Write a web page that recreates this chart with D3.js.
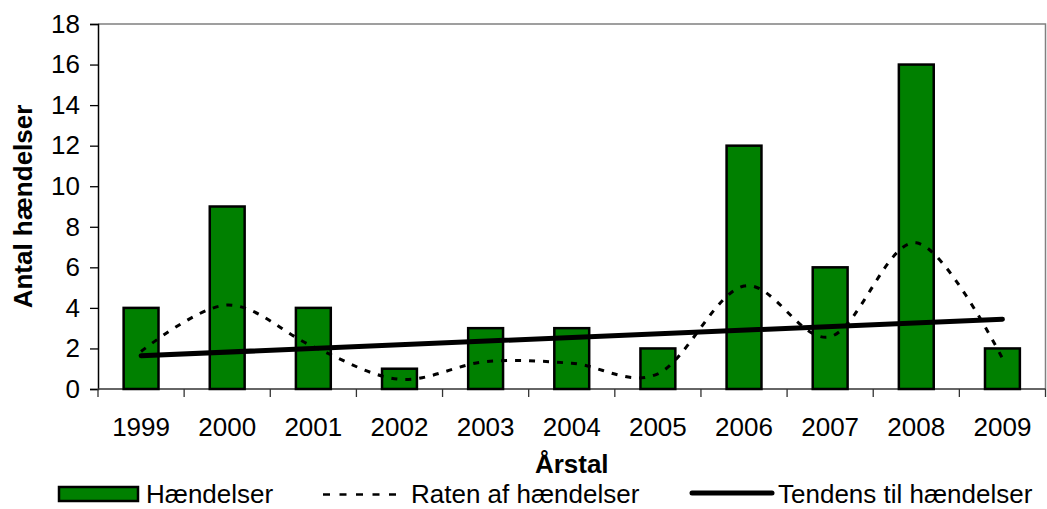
<!DOCTYPE html>
<html><head><meta charset="utf-8">
<script src="https://cdn.jsdelivr.net/npm/d3@7"></script>
<style>body{margin:0;background:#fff}svg{display:block;font-family:Arial,"Liberation Sans",sans-serif}</style>
</head><body>
<svg id="c" width="1047" height="509"></svg>
<script>
const years = ["1999","2000","2001","2002","2003","2004","2005","2006","2007","2008","2009"];
const events = [4,9,4,1,3,3,2,12,6,16,2];
const rate = [1.85,4.14,2.09,0.48,1.35,1.27,0.75,5.08,2.58,7.21,1.51];
const trendYears = ["1999","2009"];
const trendValues = [1.64,3.44];
const yTicks = [0,2,4,6,8,10,12,14,16,18];
const labels = {y:"Antal hændelser", x:"Årstal", s1:"Hændelser", s2:"Raten af hændelser", s3:"Tendens til hændelser"};

const svg = d3.select("#c");
const L=98, R=1045.5, T=24, B=389;
const x = d3.scaleBand().domain(years).range([L,R]).padding(0);
const y = d3.scaleLinear().domain([0,18]).range([B,T]);
const fs = 26;

// plot border (top/right gray)
svg.append("path").attr("d",`M${L},${T}H${R}V${B}`).attr("fill","none").attr("stroke","#808080").attr("stroke-width",1.5);

// y axis
const ya = svg.append("g").attr("transform",`translate(${L},0)`).call(d3.axisLeft(y).tickValues(yTicks).tickSize(8).tickPadding(10));
ya.select(".domain").attr("stroke","#000").attr("stroke-width",1.5);
ya.selectAll(".tick line").attr("stroke","#000").attr("stroke-width",1.3);
ya.selectAll("text").attr("font-size",fs).attr("font-family","Arial,'Liberation Sans',sans-serif").attr("fill","#000");

// x axis with ticks at band boundaries
const xa = svg.append("g").attr("transform",`translate(0,${B})`);
xa.append("line").attr("x1",L).attr("x2",R).attr("stroke","#333").attr("stroke-width",1.5);
const bounds = years.map(d=>x(d)).concat([x(years[years.length-1])+x.bandwidth()]);
xa.selectAll(".tk").data(bounds).join("line").attr("x1",d=>d).attr("x2",d=>d).attr("y1",0).attr("y2",8).attr("stroke","#333").attr("stroke-width",1.3);
xa.selectAll(".lb").data(years).join("text").attr("x",d=>x(d)+x.bandwidth()/2).attr("y",47).attr("text-anchor","middle").attr("font-size",fs).text(d=>d);

// bars
const bw = x.bandwidth()*0.405;
svg.append("g").selectAll("rect").data(years).join("rect")
  .attr("x",(d)=>x(d)+x.bandwidth()/2-bw/2).attr("width",bw)
  .attr("y",(d,i)=>y(events[i])).attr("height",(d,i)=>y(0)-y(events[i]))
  .attr("fill","#008000").attr("stroke","#000").attr("stroke-width",2.5);

// rate line (smoothed, dashed)
const line = d3.line().x((d,i)=>x(years[i])+x.bandwidth()/2).y(d=>y(d)).curve(d3.curveCardinal.tension(0));
svg.append("path").attr("d",line(rate)).attr("fill","none").attr("stroke","#000").attr("stroke-width",3).attr("stroke-dasharray","6,8");

// trend line
const tl = d3.line().x((d,i)=>x(trendYears[i])+x.bandwidth()/2).y(d=>y(d));
svg.append("path").attr("d",tl(trendValues)).attr("fill","none").attr("stroke","#000").attr("stroke-width",5).attr("stroke-linecap","round");

// y title
svg.append("text").attr("transform",`translate(32,${(T+B)/2}) rotate(-90)`).attr("text-anchor","middle").attr("font-size",fs).attr("font-weight","bold").text(labels.y);
// x title
svg.append("text").attr("x",(L+R)/2).attr("y",473).attr("text-anchor","middle").attr("font-size",fs).attr("font-weight","bold").text(labels.x);

// legend
const lg = svg.append("g");
const ly = 502.5;
lg.append("rect").attr("x",59).attr("y",487).attr("width",79).attr("height",14).attr("fill","#008000").attr("stroke","#000").attr("stroke-width",2.5);
lg.append("text").attr("x",146).attr("y",ly).attr("font-size",fs).text(labels.s1);
lg.append("line").attr("x1",323).attr("x2",405).attr("y1",494.5).attr("y2",494.5).attr("stroke","#000").attr("stroke-width",2.5).attr("stroke-dasharray","7,9.5");
lg.append("text").attr("x",411).attr("y",ly).attr("font-size",fs).text(labels.s2);
lg.append("line").attr("x1",692).attr("x2",772).attr("y1",493).attr("y2",493).attr("stroke","#000").attr("stroke-width",5).attr("stroke-linecap","round");
lg.append("text").attr("x",778).attr("y",ly).attr("font-size",fs).text(labels.s3);
</script>
</body></html>
